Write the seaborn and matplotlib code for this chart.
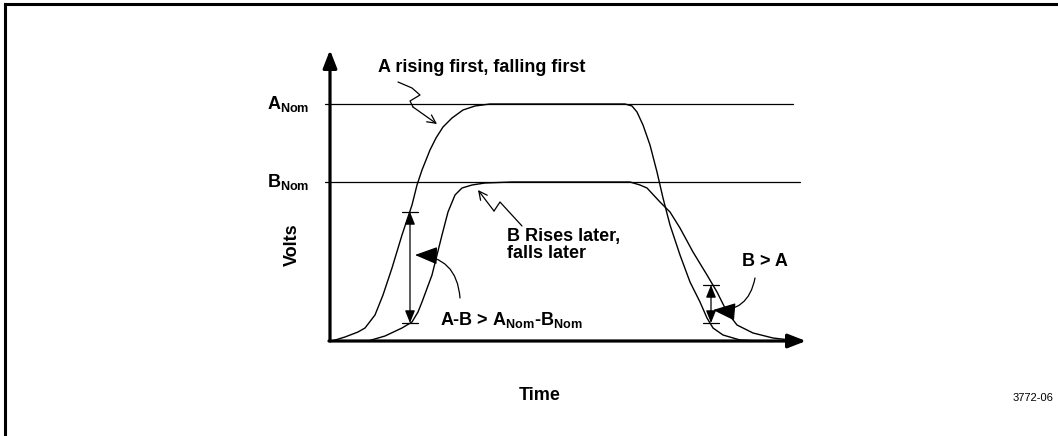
import matplotlib
matplotlib.use("Agg")
import matplotlib.pyplot as plt
import seaborn as sns
import pandas as pd
from matplotlib.patches import FancyArrowPatch
from matplotlib.lines import Line2D

# Curve samples (time units, volt units)
a_time = [2, 15, 28, 35, 45, 53, 62, 72, 82, 87, 92, 100, 106, 113, 122, 133, 145, 160, 170,
          295, 302, 307, 313, 320, 327, 333, 340, 350, 360, 370, 377, 383, 393, 410, 430]
a_volts = [0, 4, 9, 13, 26, 46, 73, 106, 136, 156, 171, 191, 203, 214, 223, 231, 235, 237, 237,
           237, 235, 229, 216, 196, 169, 143, 116, 86, 59, 39, 23, 13, 6, 1, 0]
b_time = [38, 55, 72, 82, 88, 92, 102, 112, 118, 125, 132, 142, 155, 182,
          300, 310, 317, 330, 340, 350, 363, 377, 387, 397, 407, 423, 443, 460]
b_volts = [0, 5, 13, 19, 29, 39, 66, 106, 129, 146, 153, 156, 158, 159,
           159, 156, 153, 139, 129, 113, 89, 66, 49, 29, 16, 8, 3, 1]

a_nom = 237
b_nom = 159
level_labels = [r"$\mathbf{A}_{\mathbf{Nom}}$", r"$\mathbf{B}_{\mathbf{Nom}}$"]
level_ends = [463, 470]

# measured gaps: (time, top, bottom)
gaps = [(80, 129, 18), (381, 56, 18)]

sns.set_style("white")
plt.rcParams["font.family"] = ["Liberation Sans", "DejaVu Sans"]
plt.rcParams["mathtext.fontset"] = "custom"
plt.rcParams["mathtext.bf"] = "Liberation Sans:bold"
plt.rcParams["mathtext.rm"] = "Liberation Sans"
plt.rcParams["text.color"] = "black"

fs = 13

fig = plt.figure(figsize=(10.58, 4.36), dpi=100)
ax = fig.add_axes([0, 0, 1, 1])
ax.set_xlim(-330, 728)
ax.set_ylim(-95, 341)
ax.axis("off")

# outer frame (left and top only)
fig.add_artist(Line2D([5 / 1058, 5 / 1058], [0, 1 - 4 / 436], color="black", lw=2.2,
                      transform=fig.transFigure, solid_capstyle="projecting"))
fig.add_artist(Line2D([5 / 1058, 1], [1 - 4 / 436, 1 - 4 / 436], color="black", lw=2.2,
                      transform=fig.transFigure, solid_capstyle="projecting"))

df_a = pd.DataFrame({"t": a_time, "v": a_volts})
df_b = pd.DataFrame({"t": b_time, "v": b_volts})
sns.lineplot(data=df_a, x="t", y="v", color="black", lw=1.0, sort=False, estimator=None, ax=ax)
sns.lineplot(data=df_b, x="t", y="v", color="black", lw=1.0, sort=False, estimator=None, ax=ax)

# nominal levels
for lvl, end, lab in zip([a_nom, b_nom], level_ends, level_labels):
    ax.plot([-5, end], [lvl, lvl], color="black", lw=0.9)
    ax.text(-21, lvl, lab, ha="right", va="center", fontsize=fs, fontweight="bold")

# axes with arrows
ax.annotate("", xy=(0, 291), xytext=(0, 0),
            arrowprops=dict(arrowstyle="-|>,head_length=0.9,head_width=0.35", color="black",
                            lw=2.3, shrinkA=0, shrinkB=0, mutation_scale=12))
ax.annotate("", xy=(476, 0), xytext=(-1, 0),
            arrowprops=dict(arrowstyle="-|>,head_length=0.9,head_width=0.35", color="black",
                            lw=2.3, shrinkA=0, shrinkB=0, mutation_scale=12))

ax.text(-38, 96, "Volts", rotation=90, ha="center", va="center", fontsize=fs, fontweight="bold")
ax.text(210, -54, "Time", ha="center", va="center", fontsize=fs, fontweight="bold")

# gap markers
for t, top, bot in gaps:
    ax.annotate("", xy=(t, top), xytext=(t, bot),
                arrowprops=dict(arrowstyle="<|-|>,head_length=0.75,head_width=0.3", color="black",
                                lw=0.9, shrinkA=0, shrinkB=0, mutation_scale=10))
    ax.plot([t - 8, t + 8], [top, top], color="black", lw=0.9)
    ax.plot([t - 8, t + 8], [bot, bot], color="black", lw=0.9)

# callouts
ax.text(48, 273, "A rising first, falling first", ha="left", va="center",
        fontsize=fs, fontweight="bold")
ax.plot([68, 82, 90, 80, 83], [259, 253, 246, 240, 234], color="black", lw=0.9)
ax.annotate("", xy=(107, 217), xytext=(83, 234),
            arrowprops=dict(arrowstyle="->,head_length=0.6,head_width=0.3", color="black",
                            lw=0.9, shrinkA=0, shrinkB=0, mutation_scale=10))

ax.text(177, 96, "B Rises later,\nfalls later", ha="left", va="center",
        fontsize=fs, fontweight="bold", linespacing=1.05)
ax.plot([192, 170, 164], [115, 139, 130], color="black", lw=0.9)
ax.annotate("", xy=(148, 151), xytext=(164, 130),
            arrowprops=dict(arrowstyle="->,head_length=0.6,head_width=0.3", color="black",
                            lw=0.9, shrinkA=0, shrinkB=0, mutation_scale=10))

ax.text(110, 21, r"A-B > $\mathbf{A}_{\mathbf{Nom}}$-$\mathbf{B}_{\mathbf{Nom}}$",
        ha="left", va="center", fontsize=fs, fontweight="bold")
ax.add_patch(FancyArrowPatch((130, 43), (85, 86), connectionstyle="arc3,rad=0.45",
                             arrowstyle="-|>,head_length=1.4,head_width=0.55",
                             mutation_scale=10, color="black", lw=0.9, shrinkA=0, shrinkB=0))

ax.text(412, 79, "B > A", ha="left", va="center", fontsize=fs, fontweight="bold")
ax.add_patch(FancyArrowPatch((425, 63), (383, 31), connectionstyle="arc3,rad=-0.45",
                             arrowstyle="-|>,head_length=1.4,head_width=0.55",
                             mutation_scale=10, color="black", lw=0.9, shrinkA=0, shrinkB=0))

ax.text(723, -57, "3772-06", ha="right", va="center", fontsize=8)

fig.savefig("out.png", dpi=100)
